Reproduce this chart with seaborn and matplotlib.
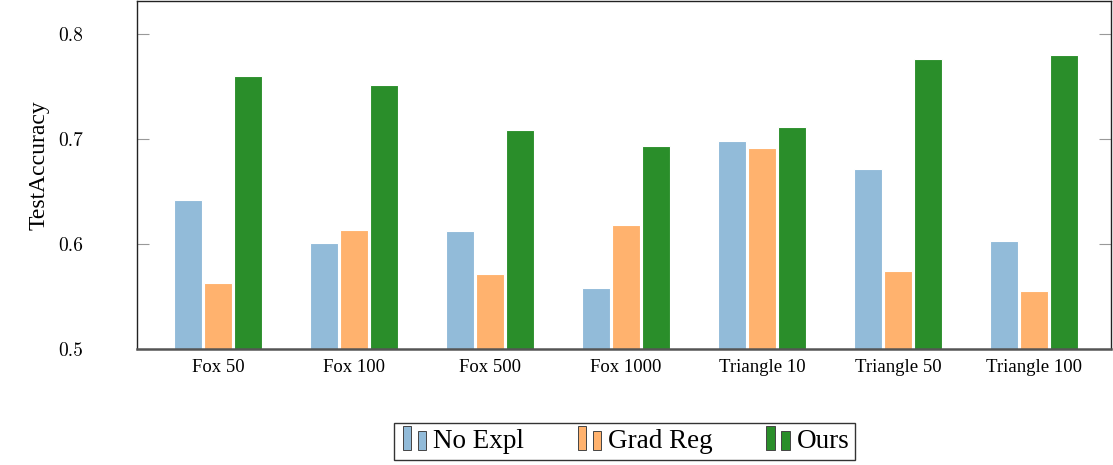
import matplotlib
matplotlib.use("Agg")
import matplotlib.pyplot as plt
import seaborn as sns
import pandas as pd
from matplotlib.patches import Rectangle
from matplotlib.legend_handler import HandlerBase

categories = ["Fox 50", "Fox 100", "Fox 500", "Fox 1000", "Triangle 10", "Triangle 50", "Triangle 100"]
no_expl = [0.642, 0.601, 0.612, 0.558, 0.698, 0.671, 0.603]
grad_reg = [0.563, 0.613, 0.571, 0.618, 0.691, 0.574, 0.555]
ours = [0.760, 0.751, 0.708, 0.693, 0.711, 0.776, 0.780]
methods = ["No Expl", "Grad Reg", "Ours"]
colors = ["#92bbd9", "#ffb26e", "#2a8e2a"]
yticks = [0.5, 0.6, 0.7, 0.8]

rows = []
for m, vals in zip(methods, [no_expl, grad_reg, ours]):
    for c, v in zip(categories, vals):
        rows.append({"cat": c, "method": m, "acc": v})
df = pd.DataFrame(rows)

sns.set_style("white")
plt.rcParams["font.family"] = ["Liberation Serif", "DejaVu Serif"]
plt.rcParams["text.color"] = "black"
plt.rcParams["xtick.color"] = "black"
plt.rcParams["ytick.color"] = "black"
plt.rcParams["axes.labelcolor"] = "black"

fig = plt.figure(figsize=(11.13, 4.65), dpi=100)
ax = fig.add_axes([137/1113, 1 - 349/465, (1111-137)/1113, 348/465])

sns.barplot(data=df, x="cat", y="acc", hue="method", order=categories, hue_order=methods,
            palette=colors, width=0.66, gap=0.04, saturation=1, edgecolor="white",
            linewidth=0.8, ax=ax, legend=True)

ax.set_xlim(-0.596, 6.566)
ax.set_ylim(0.5, 0.831)
ax.set_yticks(yticks)
ax.set_yticklabels([f"{t:.1f}" for t in yticks])
ax.set_xlabel("")
ax.set_ylabel("TestAccuracy", fontsize=17)
ax.yaxis.set_label_coords(-0.0893, 0.527)
ax.tick_params(axis="y", direction="in", length=8.5, width=0.8, color="#999999",
               labelcolor="black", left=True, right=True, pad=39)
ax.tick_params(axis="x", length=0, labelsize=13.5, labelcolor="black", pad=7)
for lbl in ax.get_yticklabels():
    lbl.set_fontfamily(["cmr10"])
    lbl.set_fontsize(14)
for s in ax.spines.values():
    s.set_color("#222222")
    s.set_linewidth(1.0)
ax.spines["bottom"].set_color("#555555")
ax.spines["bottom"].set_linewidth(1.8)

handles, labels = ax.get_legend_handles_labels()
ax.get_legend().remove()


class HandlerTwoBars(HandlerBase):
    def create_artists(self, legend, orig_handle, xdescent, ydescent, width, height, fontsize, trans):
        fc = orig_handle.get_facecolor()
        w = width * 0.28
        r1 = Rectangle((xdescent + width * 0.12, -ydescent - height * 0.05), w, height * 1.2,
                       facecolor=fc, edgecolor="#444444", linewidth=0.7, transform=trans)
        r2 = Rectangle((xdescent + width * 0.62, -ydescent - height * 0.05), w, height * 0.95,
                       facecolor=fc, edgecolor="#444444", linewidth=0.7, transform=trans)
        return [r1, r2]


leg = fig.legend(handles, labels, loc="center", bbox_to_anchor=(624.5/1113, 1 - 441.5/465),
                 ncol=3, frameon=True, fancybox=False, edgecolor="black", fontsize=19.5,
                 handler_map={h: HandlerTwoBars() for h in handles},
                 handlelength=1.1, handleheight=0.8, handletextpad=0.15, columnspacing=1.85,
                 borderpad=0.22, borderaxespad=0)
leg.get_frame().set_linewidth(1.0)

fig.savefig("out.png", dpi=100)
